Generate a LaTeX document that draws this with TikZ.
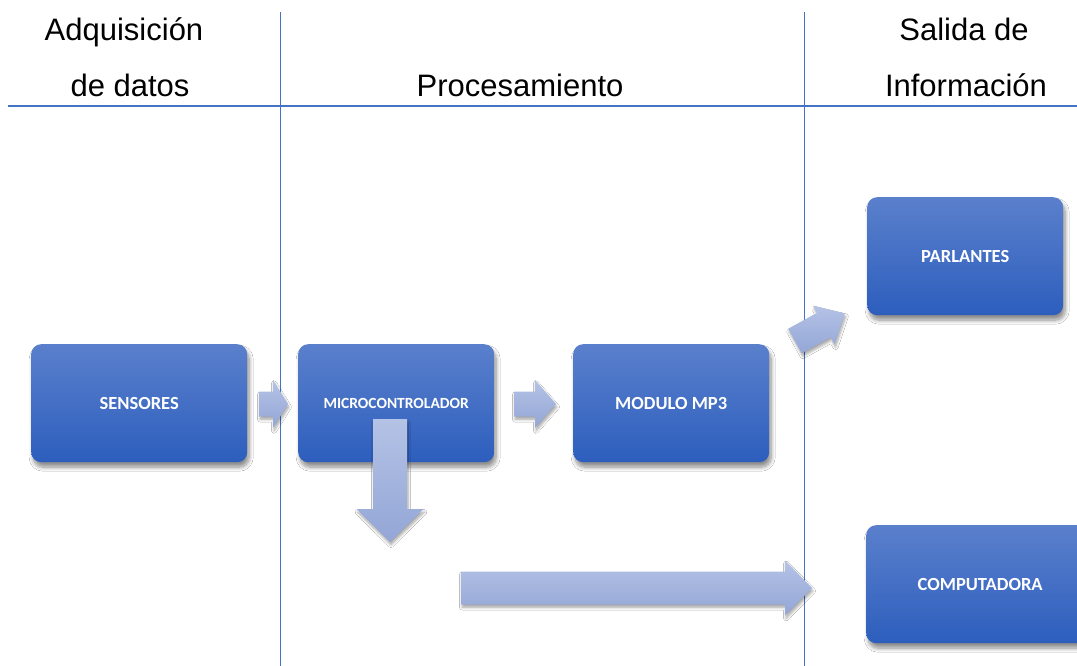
\documentclass[tikz,border=0pt]{standalone}
\usepackage{fontspec}
\setmainfont{Liberation Sans}
\newfontfamily\boxfont{Carlito}
\usetikzlibrary{shadows.blur}
\definecolor{linecol}{HTML}{4472C4}
\definecolor{boxtop}{HTML}{5A80CC}
\definecolor{boxbot}{HTML}{2D5EBD}
\definecolor{arrtop}{HTML}{B4C2E5}
\definecolor{arrbot}{HTML}{93A6D6}
\tikzset{
  blockbox/.style={rounded corners=10pt, top color=boxtop, bottom color=boxbot, draw=none,
    blur shadow={shadow xshift=2pt, shadow yshift=-5pt, shadow blur steps=8, shadow blur radius=4pt, shadow opacity=45},
    text=white, font=\boxfont\bfseries\fontsize{18.5}{20}\selectfont,
    minimum width=196pt, minimum height=118pt, inner sep=0pt, anchor=north west},
  headtext/.style={font=\fontsize{31}{36}\selectfont, anchor=base, inner sep=0pt},
  divider/.style={draw=linecol, line width=1pt},
  arrowfill/.style={top color=arrtop, bottom color=arrbot, draw=none,
    blur shadow={shadow xshift=1pt, shadow yshift=-3pt, shadow blur steps=6, shadow blur radius=2.5pt, shadow opacity=35}}
}
\newcommand{\blockarr}[7]{%
  \begin{scope}[shift={(#1,#2)}, rotate=#3]
    \path[arrowfill] (0,-#5) -- (#4-#7,-#5) -- (#4-#7,-#6) -- (#4,0) -- (#4-#7,#6) -- (#4-#7,#5) -- (0,#5) -- cycle;
  \end{scope}}
\begin{document}
\begin{tikzpicture}[x=1pt,y=-1pt]
\useasboundingbox (0,0) rectangle (1077,666);
\clip (0,0) rectangle (1077,666);
\fill[white] (0,0) rectangle (1077,666);
% dividers
\coordinate (v1t) at (280,12); \coordinate (v1b) at (280,666);
\coordinate (v2t) at (804,12); \coordinate (v2b) at (804,666);
\coordinate (hl) at (8,106); \coordinate (hr) at (1077,106);
\draw[divider] (v1t) -- (v1b);
\draw[divider] (v2t) -- (v2b);
\draw[draw=linecol, line width=1.8pt] (hl) -- (hr);
% headers
\node[headtext] (h1) at (124,41) {Adquisición};
\node[headtext] (h2) at (130,97) {de datos};
\node[headtext] (h3) at (520,97) {Procesamiento};
\node[headtext] (h4) at (964,41) {Salida de};
\node[headtext] (h5) at (966,97) {Información};
% arrows
\blockarr{259}{404}{0}{29}{12.5}{24}{15}
\blockarr{514}{404}{0}{42}{12.5}{24}{21}
\blockarr{461}{588}{0}{351}{16.5}{27.5}{27}
\blockarr{795}{341}{29}{57}{14}{22}{24}
% boxes
\node[blockbox, minimum width=216pt] (sens) at (31,344) {SENSORES};
\node[blockbox, font=\boxfont\bfseries\fontsize{15.5}{17}\selectfont] (micro) at (298,344) {MICROCONTROLADOR};
\node[blockbox] (mp3) at (573,344) {MODULO MP3};
\node[blockbox] (parl) at (867,197) {PARLANTES};
\node[blockbox, minimum width=228pt] (comp) at (866,525) {COMPUTADORA};
% down arrow on top of the microcontroller box
\blockarr{390}{419}{-90}{123}{17}{33.5}{33}
\end{tikzpicture}
\end{document}
